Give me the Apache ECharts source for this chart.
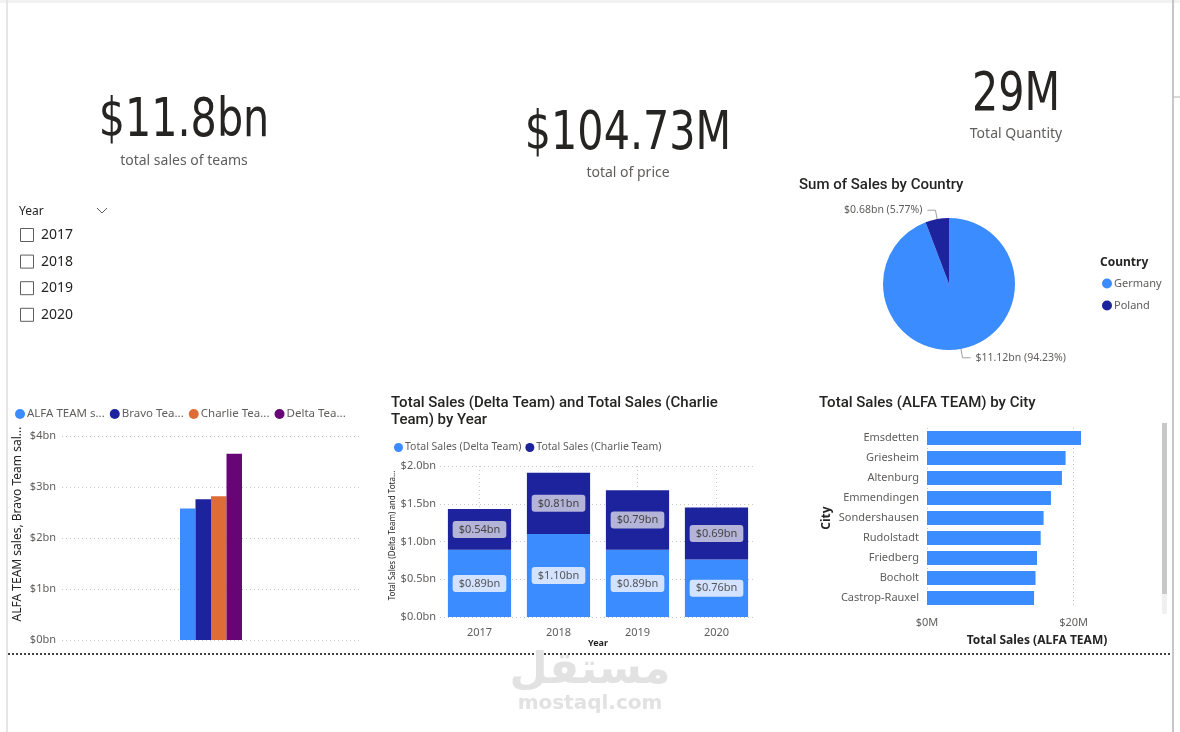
<!DOCTYPE html>
<html><head><meta charset="utf-8">
<script src="https://cdn.jsdelivr.net/npm/echarts@6/dist/echarts.min.js"></script>
<style>html,body{margin:0;padding:0;background:#fff}#c{width:1180px;height:732px}</style>
</head><body><div id="c"></div><script>
// ---- data ----
const kpiValues = ['$11.8bn', '$104.73M', '29M'];
const kpiLabels = ['total sales of teams', 'total of price', 'Total Quantity'];
const slicerTitle = 'Year';
const slicerYears = ['2017', '2018', '2019', '2020'];

const teamNames = ['ALFA TEAM sales', 'Bravo Team sales', 'Charlie Team sales', 'Delta Team sales'];
const teamLegendLabels = ['ALFA TEAM s...', 'Bravo Tea...', 'Charlie Tea...', 'Delta Tea...'];
const teamSales = [2.58, 2.76, 2.82, 3.65]; // $bn
const teamAxisName = 'ALFA TEAM sales, Bravo Team sal...';

const years = ['2017', '2018', '2019', '2020'];
const deltaSales = [0.89, 1.10, 0.89, 0.76];   // $bn
const charlieSales = [0.54, 0.81, 0.79, 0.69]; // $bn
const yearSeriesNames = ['Total Sales (Delta Team)', 'Total Sales (Charlie Team)'];
const yearTitle = ['Total Sales (Delta Team) and Total Sales (Charlie', 'Team) by Year'];
const yearAxisName = 'Total Sales (Delta Team) and Tota...';

const countries = ['Germany', 'Poland'];
const countrySales = [11.1188, 0.6808]; // $bn
const pieTitle = 'Sum of Sales by Country';

const cities = ['Emsdetten', 'Griesheim', 'Altenburg', 'Emmendingen', 'Sondershausen', 'Rudolstadt', 'Friedberg', 'Bocholt', 'Castrop-Rauxel'];
const alfaCitySales = [21.0, 18.9, 18.4, 16.9, 15.9, 15.5, 15.0, 14.8, 14.6]; // $M
const cityTitle = 'Total Sales (ALFA TEAM) by City';

// ---- styles ----
const C = { blue: '#3b8cff', navy: '#1c239d', orange: '#de6c37', purple: '#680576' };
const teamColors = [C.blue, C.navy, C.orange, C.purple];
const FONT = '"Noto Sans", "Open Sans", sans-serif';
const TFONT = 'Roboto, "Noto Sans", sans-serif';
const NUMFONT = '"DejaVu Sans Condensed", "DejaVu Sans", sans-serif';
const gridLine = { show: true, lineStyle: { color: '#c8c6c4', type: [1, 3], width: 1 } };
const lbl = { color: '#605e5c', fontFamily: FONT, fontSize: 11 };

const chart = echarts.init(document.getElementById('c'), null, { renderer: 'canvas' });

const graphics = [];
// frame
graphics.push({ type: 'rect', shape: { x: 0, y: 0, width: 1180, height: 3 }, style: { fill: '#f2f2f2' }, silent: true });
graphics.push({ type: 'line', shape: { x1: 7, y1: 0, x2: 7, y2: 732 }, style: { stroke: '#e6e6e6', lineWidth: 2 }, silent: true });
graphics.push({ type: 'line', shape: { x1: 1173, y1: 0, x2: 1173, y2: 732 }, style: { stroke: '#b5b5b5', lineWidth: 1.5 }, silent: true });
graphics.push({ type: 'line', shape: { x1: 1173, y1: 97, x2: 1180, y2: 97 }, style: { stroke: '#b5b5b5', lineWidth: 1 }, silent: true });
// KPIs
const kpiPos = [[184, 122, 161], [628, 135, 173], [1016, 96, 134]];
kpiValues.forEach((v, i) => {
  graphics.push({ type: 'text', x: kpiPos[i][0], y: kpiPos[i][1], scaleX: 0.85, style: { text: v, fill: '#252423', font: '54px ' + NUMFONT, textAlign: 'center', textVerticalAlign: 'middle' } });
  graphics.push({ type: 'text', x: kpiPos[i][0], y: kpiPos[i][2], style: { text: kpiLabels[i], fill: '#605e5c', font: '14px ' + FONT, textAlign: 'center', textVerticalAlign: 'middle' } });
});
// slicer
graphics.push({ type: 'text', x: 19, y: 212, style: { text: slicerTitle, fill: '#252423', font: '12px ' + FONT, textVerticalAlign: 'middle' } });
graphics.push({ type: 'polyline', shape: { points: [[97, 208], [102, 213], [107, 208]] }, style: { stroke: '#605e5c', lineWidth: 1, fill: null } });
slicerYears.forEach((y, i) => {
  const cy = 235 + i * 26.6;
  graphics.push({ type: 'rect', shape: { x: 20.5, y: cy - 6.5, width: 13, height: 13 }, style: { stroke: '#605e5c', lineWidth: 1, fill: '#fff' } });
  graphics.push({ type: 'text', x: 41, y: cy, style: { text: y, fill: '#252423', font: '14px ' + FONT, textVerticalAlign: 'middle' } });
});
// titles
graphics.push({ type: 'text', x: 799, y: 185, style: { text: pieTitle, fill: '#252423', font: '500 15px ' + TFONT, textVerticalAlign: 'middle' } });
graphics.push({ type: 'text', x: 1100, y: 263, style: { text: 'Country', fill: '#252423', font: 'bold 12px ' + FONT, textVerticalAlign: 'middle' } });
yearTitle.forEach((t, i) => graphics.push({ type: 'text', x: 391, y: 403 + i * 17.5, style: { text: t, fill: '#252423', font: '500 15px ' + TFONT, textVerticalAlign: 'middle' } }));
graphics.push({ type: 'text', x: 819, y: 403, style: { text: cityTitle, fill: '#252423', font: '500 15px ' + TFONT, textVerticalAlign: 'middle' } });
// scrollbar
graphics.push({ type: 'rect', shape: { x: 1162, y: 594, width: 5, height: 20 }, style: { fill: '#f0f0f0' } });
graphics.push({ type: 'rect', shape: { x: 1162, y: 423, width: 5, height: 171 }, style: { fill: '#c8c8c8' } });
// separator
graphics.push({ type: 'line', shape: { x1: 8, y1: 654, x2: 1170, y2: 654 }, style: { stroke: '#444', lineWidth: 2, lineDash: [2, 2] } });
// watermark
graphics.push({ type: 'text', x: 590, y: 672, style: { text: 'مستقل', fill: '#e2e2e2', font: 'bold 44px "DejaVu Sans", sans-serif', textAlign: 'center', textVerticalAlign: 'middle' } });
graphics.push({ type: 'text', x: 590, y: 704, style: { text: 'mostaql.com', fill: '#e2e2e2', font: 'bold 20px "DejaVu Sans", sans-serif', textAlign: 'center', textVerticalAlign: 'middle' } });

const option = {
  animation: false,
  backgroundColor: '#fff',
  graphic: graphics,
  legend: [
    { left: 10, top: 403, itemWidth: 10, itemHeight: 10, itemGap: 5, icon: 'circle', data: teamNames,
      formatter: n => teamLegendLabels[teamNames.indexOf(n)], textStyle: { ...lbl, fontSize: 11.5, padding: [0, 0, 0, -3] } },
    { left: 389, top: 437, itemWidth: 9, itemHeight: 9, itemGap: 4, icon: 'circle', data: yearSeriesNames,
      textStyle: { ...lbl, fontSize: 10.5, padding: [0, 0, 0, -3] } },
    { left: 1097, top: 273, orient: 'vertical', itemWidth: 10, itemHeight: 10, itemGap: 11, icon: 'circle', data: countries,
      textStyle: { ...lbl, fontSize: 11, padding: [0, 0, 0, -3] } }
  ],
  grid: [
    { left: 62, top: 436, width: 298, height: 204 },
    { left: 440, top: 466, width: 316, height: 151 },
    { left: 927, top: 428, width: 220, height: 180 }
  ],
  xAxis: [
    { gridIndex: 0, type: 'category', data: [''], axisLine: { show: false }, axisTick: { show: false }, axisLabel: { show: false } },
    { gridIndex: 1, type: 'category', data: years, axisLine: { show: false }, axisTick: { show: false, alignWithLabel: true },
      axisLabel: { ...lbl, fontSize: 11, margin: 10 },
      splitLine: { ...gridLine, alignWithLabel: true },
      name: 'Year', nameLocation: 'middle', nameGap: 20, nameTextStyle: { color: '#252423', fontFamily: FONT, fontSize: 9, fontWeight: 'bold' } },
    { gridIndex: 2, type: 'value', min: 0, max: 30, interval: 20, axisLine: { show: false }, axisTick: { show: false },
      axisLabel: { ...lbl, fontSize: 11, margin: 9, showMaxLabel: false, formatter: v => '$' + v + 'M' },
      splitLine: { ...gridLine, showMaxLine: false },
      name: 'Total Sales (ALFA TEAM)', nameLocation: 'middle', nameGap: 27, nameTextStyle: { color: '#252423', fontFamily: FONT, fontSize: 12, fontWeight: 'bold' } }
  ],
  yAxis: [
    { gridIndex: 0, type: 'value', min: 0, max: 4, interval: 1, axisLabel: { ...lbl, fontSize: 11, margin: 6, formatter: v => '$' + v + 'bn' },
      splitLine: gridLine, axisLine: { show: false }, axisTick: { show: false },
      name: teamAxisName, nameLocation: 'middle', nameRotate: 90, nameGap: 38, nameTextStyle: { color: '#252423', fontFamily: FONT, fontSize: 12, padding: [0, 0, 0, 28] } },
    { gridIndex: 1, type: 'value', min: 0, max: 2, interval: 0.5, axisLabel: { ...lbl, fontSize: 11, margin: 4, formatter: v => '$' + v.toFixed(1) + 'bn' },
      splitLine: gridLine, axisLine: { show: false }, axisTick: { show: false },
      name: yearAxisName, nameLocation: 'middle', nameRotate: 90, nameGap: 42, nameTextStyle: { color: '#252423', fontFamily: FONT, fontSize: 8, padding: [0, 0, 0, 12] } },
    { gridIndex: 2, type: 'category', data: cities, inverse: true, axisLine: { show: false }, axisTick: { show: false },
      axisLabel: { ...lbl, fontSize: 11, margin: 8 },
      name: 'City', nameLocation: 'middle', nameRotate: 90, nameGap: 94, nameTextStyle: { color: '#252423', fontFamily: FONT, fontSize: 12, fontWeight: 'bold' } }
  ],
  series: [
    ...teamNames.map((n, i) => ({
      type: 'bar', name: n, xAxisIndex: 0, yAxisIndex: 0, data: [teamSales[i]], barWidth: 15.5, barGap: '0%',
      itemStyle: { color: teamColors[i] }
    })),
    { type: 'bar', name: yearSeriesNames[0], xAxisIndex: 1, yAxisIndex: 1, stack: 'y', data: deltaSales, barCategoryGap: '20%',
      itemStyle: { color: C.blue },
      label: { show: true, position: 'inside', formatter: p => '$' + p.value.toFixed(2) + 'bn', color: '#555', fontFamily: FONT, fontSize: 11,
        backgroundColor: '#d3e3ff', borderRadius: 3, padding: [3, 6] } },
    { type: 'bar', name: yearSeriesNames[1], xAxisIndex: 1, yAxisIndex: 1, stack: 'y', data: charlieSales, barCategoryGap: '20%',
      itemStyle: { color: C.navy },
      label: { show: true, position: 'inside', formatter: p => '$' + p.value.toFixed(2) + 'bn', color: '#444', fontFamily: FONT, fontSize: 11,
        backgroundColor: '#b4b4d8', borderRadius: 3, padding: [3, 6] } },
    { type: 'bar', name: 'Total Sales (ALFA TEAM)', xAxisIndex: 2, yAxisIndex: 2, data: alfaCitySales, barWidth: 14,
      itemStyle: { color: C.blue } },
    { type: 'pie', name: 'Sum of Sales', center: [949, 284], radius: 66, startAngle: 90,
      data: countries.map((c, i) => ({ name: c, value: countrySales[i], itemStyle: { color: [C.blue, C.navy][i] } })),
      label: { formatter: p => '$' + p.value.toFixed(2) + 'bn (' + p.percent.toFixed(2) + '%)', color: '#605e5c', fontFamily: FONT, fontSize: 10.5 },
      labelLine: { length: 9, length2: 8, lineStyle: { color: '#a0a0a0' } } }
  ]
};
chart.setOption(option);
</script></body></html>
